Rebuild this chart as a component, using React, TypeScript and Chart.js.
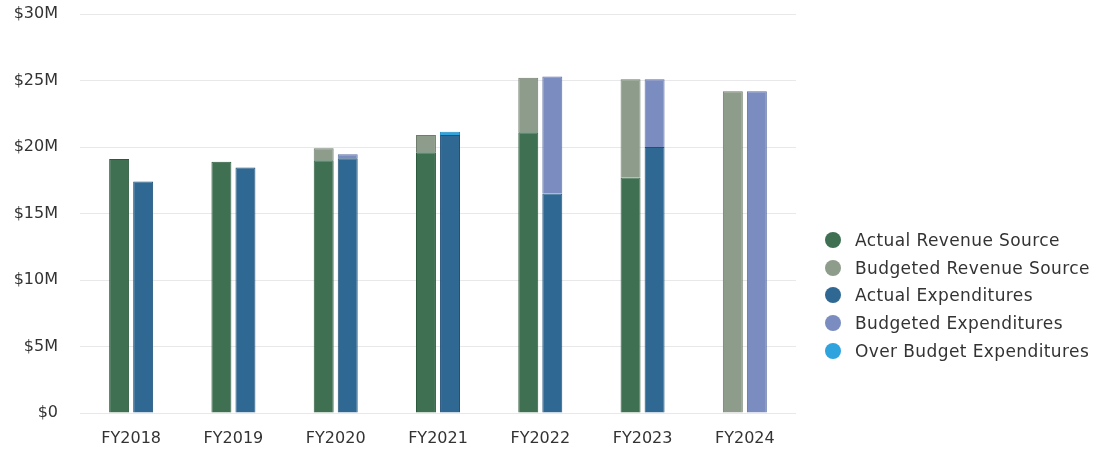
import React, { useEffect, useRef } from "react";
import { Chart, registerables } from "chart.js";

Chart.register(...registerables);

// Fiscal years on the x axis
const categories = ["FY2018", "FY2019", "FY2020", "FY2021", "FY2022", "FY2023", "FY2024"];

// Values in millions of dollars; budgeted/over-budget values are the stacked portion above actuals
const actualRevenue = [19.1, 18.9, 19.0, 19.6, 21.1, 17.7, 0];
const budgetedRevenue = [0, 0, 0.9, 1.3, 4.1, 7.4, 24.2];
const actualExpenditures = [17.4, 18.45, 19.15, 20.9, 16.5, 20.0, 0];
const budgetedExpenditures = [0, 0, 0.3, 0, 8.8, 5.1, 24.2];
const overBudgetExpenditures = [0, 0, 0, 0.25, 0, 0, 0];

const yTicks = [0, 5, 10, 15, 20, 25, 30];

const FONT = "'DejaVu Sans', sans-serif";

const series = [
  { label: "Actual Revenue Source", data: actualRevenue, stack: "revenue", color: "#3f7052", border: "#2c5a3d" },
  { label: "Budgeted Revenue Source", data: budgetedRevenue, stack: "revenue", color: "#8e9d8b", border: "#6f7e6c" },
  { label: "Actual Expenditures", data: actualExpenditures, stack: "expenditures", color: "#2f6892", border: "#1f5078" },
  { label: "Budgeted Expenditures", data: budgetedExpenditures, stack: "expenditures", color: "#7b8dc0", border: "#5f71a6" },
  { label: "Over Budget Expenditures", data: overBudgetExpenditures, stack: "expenditures", color: "#2ea3dd", border: "#1d8cc4" },
];

export default function App() {
  const canvasRef = useRef<HTMLCanvasElement | null>(null);

  useEffect(() => {
    if (!canvasRef.current) return;
    const chart = new Chart(canvasRef.current, {
      type: "bar",
      data: {
        labels: categories,
        datasets: series.map((s) => ({
          label: s.label,
          data: s.data,
          stack: s.stack,
          backgroundColor: s.color,
          borderColor: s.border,
          borderWidth: 1,
          categoryPercentage: 0.47,
          barPercentage: 0.83,
        })),
      },
      options: {
        animation: false,
        responsive: false,
        layout: { padding: { left: 0, right: 301, top: 14, bottom: 0 } },
        plugins: {
          legend: { display: false },
          tooltip: { enabled: false },
        },
        scales: {
          x: {
            stacked: true,
            grid: { display: false },
            border: { display: false },
            afterFit: (axis: any) => {
              axis.height = 37;
              axis.paddingLeft = 0;
              axis.paddingRight = 0;
            },
            ticks: {
              color: "#333",
              font: { family: FONT, size: 16 },
              padding: 8,
            },
          },
          y: {
            stacked: true,
            min: 0,
            max: 30,
            afterBuildTicks: (axis: any) => {
              axis.ticks = yTicks.map((v) => ({ value: v }));
            },
            afterFit: (axis: any) => {
              axis.width = 80;
              axis.paddingTop = 0;
              axis.paddingBottom = 0;
            },
            grid: { color: "#e8e8ea", drawTicks: false, lineWidth: 1 },
            border: { display: false },
            ticks: {
              color: "#333",
              font: { family: FONT, size: 16 },
              padding: 22,
              callback: (v: any) => (Number(v) === 0 ? "$0" : `$${v}M`),
            },
          },
        },
      },
    });
    return () => chart.destroy();
  }, []);

  return (
    <div style={{ position: "absolute", left: 0, top: 0, width: 1097, height: 450, background: "#fff" }}>
      <canvas ref={canvasRef} width={1097} height={450} style={{ display: "block" }} />
      <div
        style={{
          position: "absolute",
          left: 825,
          top: 226.5,
          fontFamily: FONT,
          fontSize: 17,
          letterSpacing: 0.4,
          color: "#333",
        }}
      >
        {series.map((s) => (
          <div key={s.label} style={{ display: "flex", alignItems: "center", height: 27.6, whiteSpace: "nowrap" }}>
            <span
              style={{
                display: "inline-block",
                flex: "none",
                width: 16,
                height: 16,
                borderRadius: "50%",
                background: s.color,
                marginRight: 14,
              }}
            />
            <span>{s.label}</span>
          </div>
        ))}
      </div>
    </div>
  );
}
